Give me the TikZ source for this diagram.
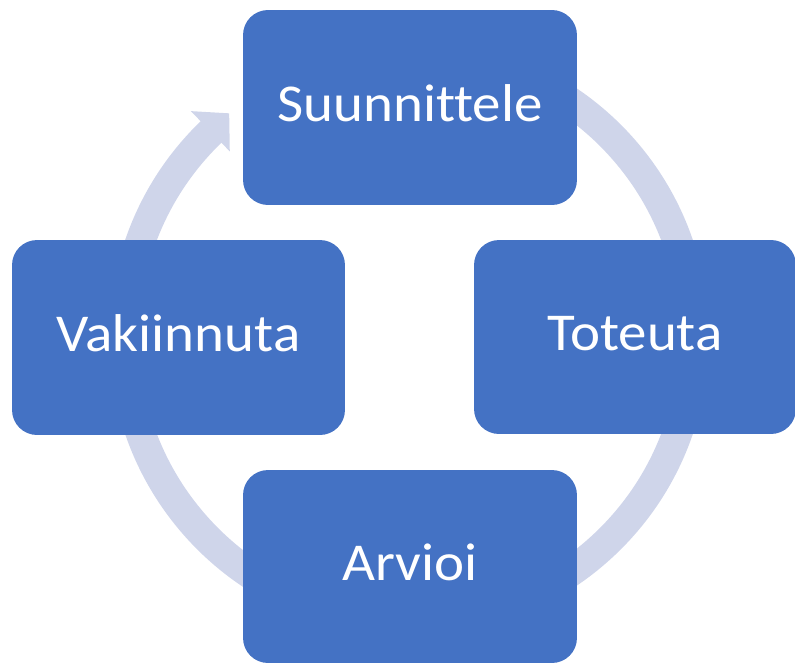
\documentclass[tikz,border=0pt]{standalone}
\usepackage{fontspec}
\setmainfont{Carlito}[FakeStretch=1.07, Ligatures=NoCommon]
\usetikzlibrary{calc}
\definecolor{boxblue}{RGB}{68,114,196}
\definecolor{ringcol}{RGB}{207,213,234}
\begin{document}
\begin{tikzpicture}[x=0.02cm,y=0.02cm,
  stepbox/.style={rectangle, fill=boxblue, draw=none, rounded corners=0.5cm,
    minimum width=6.68cm, minimum height=3.9cm, inner sep=0pt,
    text height=15.5pt, text depth=0pt,
    text=white, font=\fontsize{30.3pt}{36pt}\selectfont},
  ring/.style={draw=ringcol, line width=17pt}]
\useasboundingbox (0,0) rectangle (795,664);
\coordinate (C) at (409,327);
% ring
\draw[ring] (C) ++(133.5:285) arc[start angle=133.5, end angle=470, radius=285];
\fill[ringcol] ($(C)+(134:314)$) -- ($(C)+(128.8:287)$) -- ($(C)+(134:258)$) -- cycle;
% boxes
\node[stepbox] (plan) at (410,556.5) {Suunnittele};
\node[stepbox, minimum width=6.44cm, minimum height=3.88cm] (do) at (635,327) {Toteuta};
\node[stepbox, minimum height=3.86cm] (check) at (410,97.5) {Arvioi};
\node[stepbox, minimum width=6.66cm] (act) at (178.5,326.5) {Vakiinnuta};
\end{tikzpicture}
\end{document}
